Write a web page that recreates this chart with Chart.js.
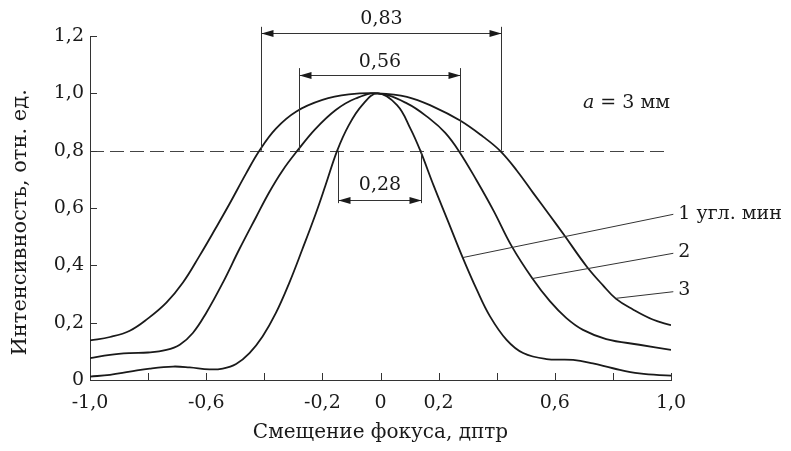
<!DOCTYPE html>
<html>
<head>
<meta charset="utf-8">
<script src="https://cdn.jsdelivr.net/npm/chart.js@4.4.1/dist/chart.umd.min.js"></script>
<style>
  html, body { margin: 0; padding: 0; background: #fff; }
  #wrap { width: 791px; height: 451px; }
</style>
</head>
<body>
<div id="wrap"><canvas id="chart"></canvas></div>
<script>
// кривая 1 (1 угл. мин)
const curve1X = [-1.0, -0.931, -0.863, -0.794, -0.714, -0.657, -0.589, -0.543, -0.497, -0.451, -0.406, -0.36, -0.314, -0.269, -0.223, -0.189, -0.149, -0.109, -0.063, -0.01,
  0.057, 0.103, 0.137, 0.183, 0.234, 0.283, 0.331, 0.377, 0.434, 0.491, 0.571, 0.663, 0.731, 0.8, 0.891, 1.0];
const curve1Y = [0.012, 0.018, 0.029, 0.040, 0.047, 0.044, 0.037, 0.040, 0.056, 0.094, 0.152, 0.234, 0.339, 0.456, 0.58, 0.68, 0.80, 0.889, 0.959, 1.0,
  0.959, 0.877, 0.80, 0.678, 0.550, 0.427, 0.316, 0.222, 0.140, 0.094, 0.073, 0.070, 0.058, 0.041, 0.023, 0.015];
// кривая 2
const curve2X = [-1.0, -0.931, -0.863, -0.8, -0.737, -0.691, -0.646, -0.6, -0.543, -0.486, -0.429, -0.383, -0.337, -0.286, -0.223, -0.154, -0.086, -0.01,
  0.091, 0.171, 0.223, 0.269, 0.331, 0.389, 0.451, 0.523, 0.583, 0.64, 0.697, 0.777, 0.891, 1.0];
const curve2Y = [0.076, 0.088, 0.094, 0.096, 0.105, 0.123, 0.164, 0.234, 0.339, 0.456, 0.567, 0.655, 0.731, 0.80, 0.877, 0.942, 0.982, 1.0,
  0.965, 0.91, 0.862, 0.80, 0.696, 0.591, 0.468, 0.354, 0.275, 0.216, 0.175, 0.143, 0.123, 0.105];
// кривая 3
const curve3X = [-1.0, -0.931, -0.863, -0.8, -0.737, -0.68, -0.623, -0.566, -0.52, -0.463, -0.417, -0.36, -0.291, -0.2, -0.109, -0.01,
  0.091, 0.183, 0.274, 0.354, 0.411, 0.469, 0.526, 0.583, 0.634, 0.709, 0.766, 0.811, 0.869, 0.937, 1.0];
const curve3Y = [0.138, 0.150, 0.172, 0.215, 0.27, 0.34, 0.433, 0.532, 0.614, 0.72, 0.80, 0.877, 0.936, 0.977, 0.996, 1.0,
  0.988, 0.953, 0.905, 0.848, 0.80, 0.731, 0.652, 0.574, 0.503, 0.397, 0.33, 0.283, 0.246, 0.211, 0.191];

// подписи осей
const xLabelValues = [-1.0, -0.6, -0.2, 0, 0.2, 0.6, 1.0];
const xTickLabels = ["-1,0", "-0,6", "-0,2", "0", "0,2", "0,6", "1,0"];
const xTitle = "Смещение фокуса, дптр";
const yTitle = "Интенсивность, отн. ед.";
const levelY = 0.8;

// размерные линии ширины на уровне 0,8
const dimLabels = ["0,83", "0,56", "0,28"];
const dimLeft = [-0.411, -0.279, -0.145];
const dimRight = [0.416, 0.275, 0.140];
const dimArrowY = [1.209, 1.064, 0.628];
const dimEndY = [1.232, 1.088, 0.617];
const dimTextY = [1.259, 1.109, 0.680];

// выноски
const leaderLabels = ["1 угл. мин", "2", "3"];
const leaderFromX = [0.283, 0.523, 0.811];
const leaderFromY = [0.427, 0.354, 0.285];
const leaderToX = [1.008, 1.008, 1.008];
const leaderToY = [0.578, 0.442, 0.308];
const leaderTextY = [0.579, 0.446, 0.314];

const FONT = '"DejaVu Serif", "Liberation Serif", serif';
const INK = "#1a1a1a";

function toPoints(xs, ys) {
  return xs.map(function (x, i) { return { x: x, y: ys[i] }; });
}

function arrowHead(ctx, x, y, dir) {
  ctx.beginPath();
  ctx.moveTo(x, y);
  ctx.lineTo(x - dir * 12, y - 3.5);
  ctx.lineTo(x - dir * 12, y + 3.5);
  ctx.closePath();
  ctx.fill();
}

//пунктир и насечки внутрь
const backPlugin = {
  id: "back",
  beforeDatasetsDraw(chart) {
    const ctx = chart.ctx;
    const xs = chart.scales.x, ys = chart.scales.y;
    const area = chart.chartArea;
    ctx.save();
    ctx.strokeStyle = "#444";
    ctx.lineWidth = 1;
    ctx.setLineDash([14, 6]);
    const py = Math.round(ys.getPixelForValue(levelY)) + 0.5;
    ctx.beginPath();
    ctx.moveTo(area.left, py);
    ctx.lineTo(xs.getPixelForValue(0.995), py);
    ctx.stroke();
    ctx.setLineDash([]);
    ctx.strokeStyle = "#333";
    xs.ticks.forEach(function (t) {
      const px = Math.round(xs.getPixelForValue(t.value)) + 0.5;
      ctx.beginPath();
      ctx.moveTo(px, area.bottom);
      ctx.lineTo(px, area.bottom - 7);
      ctx.stroke();
    });
    ys.ticks.forEach(function (t) {
      const p = Math.round(ys.getPixelForValue(t.value)) + 0.5;
      ctx.beginPath();
      ctx.moveTo(area.left, p);
      ctx.lineTo(area.left + 7, p);
      ctx.stroke();
    });
    ctx.restore();
  },
};

//размеры, выноски, подписи
const notePlugin = {
  id: "notes",
  afterDraw(chart) {
    const ctx = chart.ctx;
    const xs = chart.scales.x, ys = chart.scales.y;
    ctx.save();
    ctx.strokeStyle = "#333";
    ctx.fillStyle = INK;
    ctx.lineWidth = 1;
    const lvl = ys.getPixelForValue(levelY);
    for (let i = 0; i < dimLabels.length; i++) {
      const l = Math.round(xs.getPixelForValue(dimLeft[i])) + 0.5;
      const r = Math.round(xs.getPixelForValue(dimRight[i])) + 0.5;
      const ay = Math.round(ys.getPixelForValue(dimArrowY[i])) + 0.5;
      const ey = ys.getPixelForValue(dimEndY[i]);
      ctx.beginPath();
      ctx.moveTo(l, lvl); ctx.lineTo(l, ey);
      ctx.moveTo(r, lvl); ctx.lineTo(r, ey);
      ctx.moveTo(l, ay); ctx.lineTo(r, ay);
      ctx.stroke();
      arrowHead(ctx, l, ay, -1);
      arrowHead(ctx, r, ay, 1);
      ctx.font = "19px " + FONT;
      ctx.textAlign = "center";
      ctx.textBaseline = "middle";
      ctx.fillText(dimLabels[i], (l + r) / 2, ys.getPixelForValue(dimTextY[i]));
    }
    for (let i = 0; i < leaderLabels.length; i++) {
      const x2 = xs.getPixelForValue(leaderToX[i]);
      ctx.beginPath();
      ctx.moveTo(xs.getPixelForValue(leaderFromX[i]), ys.getPixelForValue(leaderFromY[i]));
      ctx.lineTo(x2, ys.getPixelForValue(leaderToY[i]));
      ctx.stroke();
      ctx.font = "19px " + FONT;
      ctx.textAlign = "left";
      ctx.textBaseline = "middle";
      ctx.fillText(leaderLabels[i], x2 + 5, ys.getPixelForValue(leaderTextY[i]));
    }
    // a = 3 мм
    let tx = xs.getPixelForValue(0.697);
    const ty = ys.getPixelForValue(0.966);
    ctx.textAlign = "left";
    ctx.font = "italic 19px " + FONT;
    ctx.fillText("a", tx, ty);
    tx += ctx.measureText("a").width;
    ctx.font = "19px " + FONT;
    ctx.fillText(" = 3 мм", tx, ty);
    // подпись оси Y
    ctx.translate(21, ys.getPixelForValue(0.55));
    ctx.rotate(-Math.PI / 2);
    ctx.textAlign = "center";
    ctx.font = "21px " + FONT;
    ctx.fillText(yTitle, 0, 0);
    ctx.restore();
  },
};

function lineSet(xs, ys) {
  return {
    data: toPoints(xs, ys),
    borderColor: INK,
    borderWidth: 1.8,
    pointRadius: 0,
    tension: 0.4,
    fill: false,
  };
}

new Chart(document.getElementById("chart"), {
  type: "line",
  data: {
    datasets: [lineSet(curve1X, curve1Y), lineSet(curve2X, curve2Y), lineSet(curve3X, curve3Y)],
  },
  options: {
    responsive: true,
    maintainAspectRatio: false,
    animation: false,
    layout: { padding: { top: 36, right: 120, left: 0, bottom: 0 } },
    plugins: { legend: { display: false }, tooltip: { enabled: false } },
    scales: {
      x: {
        type: "linear",
        min: -1,
        max: 1,
        grid: { display: false, drawTicks: false },
        border: { display: true, color: "#333", width: 1 },
        ticks: {
          stepSize: 0.2,
          autoSkip: false,
          maxRotation: 0,
          padding: 12,
          color: INK,
          font: { family: FONT, size: 19 },
          callback: function (value) {
            const i = xLabelValues.findIndex(function (v) { return Math.abs(v - value) < 1e-6; });
            return i >= 0 ? xTickLabels[i] : "";
          },
        },
        title: {
          display: true,
          text: xTitle,
          color: INK,
          font: { family: FONT, size: 20 },
          padding: { top: 0, bottom: 6 },
        },
        afterFit: function (scale) { scale.height = 71; },
      },
      y: {
        min: 0,
        max: 1.2,
        grid: { display: false, drawTicks: false },
        border: { display: true, color: "#333", width: 1 },
        ticks: {
          stepSize: 0.2,
          padding: 6,
          color: INK,
          font: { family: FONT, size: 19 },
          callback: function (value) {
            return value === 0 ? "0" : value.toFixed(1).replace(".", ",");
          },
        },
        afterFit: function (scale) { scale.width = 90; },
      },
    },
  },
  plugins: [backPlugin, notePlugin],
});
</script>
</body>
</html>
